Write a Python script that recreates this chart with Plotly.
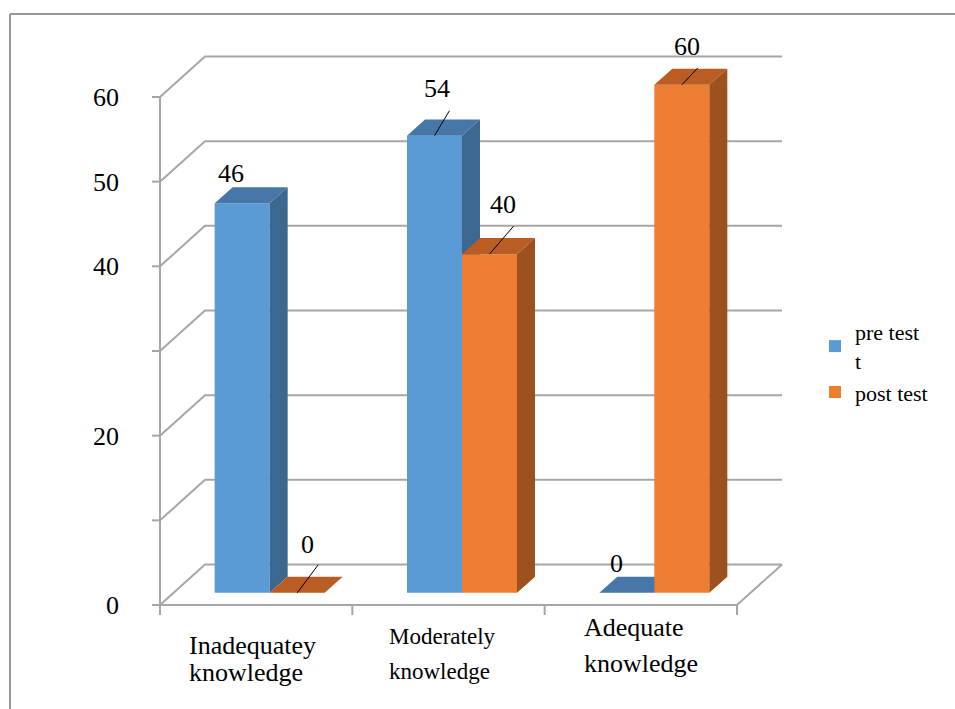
import plotly.graph_objects as go

# ---------------- data ----------------
categories = ["Inadequatey<br>knowledge", "Moderately<br>knowledge", "Adequate<br>knowledge"]
series_names = ["pre test<br>t", "post test"]
pre_test = [46, 54, 0]
post_test = [0, 40, 60]
y_tick_vals = [0, 20, 40, 50, 60]
y_tick_text = ["0", "20", "40", "50", "60"]
y_grid_vals = [0, 10, 20, 30, 40, 50, 60]

# ---------------- styles ----------------
FONT = "Liberation Serif"
front_colors = ["#5B9BD5", "#ED7D31"]
top_colors = ["#4677A8", "#BA5D24"]
side_colors = ["#3C6890", "#9C511E"]
GRID = "#A6A6A6"

W, H = 955, 709
L, R, T, B = 140, 800, 40, 620
PXX = 192.33          # px per category unit
PXY = 8.467           # px per value unit
FRONT_X0_PX, FRONT_Y0_PX = 160, 605
xr = [-0.5 - (FRONT_X0_PX - L) / PXX, -0.5 - (FRONT_X0_PX - L) / PXX + (R - L) / PXX]
yr = [-(B - FRONT_Y0_PX) / PXY, (FRONT_Y0_PX - T) / PXY]

DX = 45 / PXX         # full depth offset (x, data units)
DY = 40.5 / PXY       # full depth offset (y, data units)
D0 = 0.3              # front face depth fraction
DD = 0.4              # bar depth fraction
BW = 0.286            # bar width (category units)

# label offsets in px (xshift, yshift) relative to bar top-front centre
label_shift = [[(-11, 30), (10, 48)], [(3, 47), (13, 50)], [(-10, 29), (5, 38)]]
leader = [[None, (21, 28)], [(15, 25), (24, 28)], [None, (16, 17)]]
cat_left_shift = [-69, -62, -59]
cat_line_py = [[645, 672], [636, 671], [627, 663]]
cat_font = [26, 23, 26]

fig = go.Figure()
series_vals = [pre_test, post_test]
axes = [("x", "y"), ("x2", "y2")]
bar_offsets = [-BW, 0.0]

for s, vals in enumerate(series_vals):
    xa, ya = axes[s]
    off = bar_offsets[s] + D0 * DX
    fig.add_trace(go.Bar(
        x=list(range(len(categories))), y=vals, base=D0 * DY,
        offset=off, width=BW, name=series_names[s],
        marker=dict(color=front_colors[s], line=dict(width=0)),
        xaxis=xa, yaxis=ya, hoverinfo="skip",
    ))
    for i, v in enumerate(vals):
        fx = i + off
        fy = D0 * DY
        ddx, ddy = DD * DX, DD * DY
        # top face
        fig.add_trace(go.Scatter(
            x=[fx, fx + BW, fx + BW + ddx, fx + ddx, fx],
            y=[fy + v, fy + v, fy + v + ddy, fy + v + ddy, fy + v],
            fill="toself", fillcolor=top_colors[s], mode="lines",
            line=dict(width=0, color=top_colors[s]), showlegend=False,
            hoverinfo="skip", xaxis=xa, yaxis=ya))
        if v > 0:
            fig.add_trace(go.Scatter(
                x=[fx + BW, fx + BW, fx + BW + ddx, fx + BW + ddx, fx + BW],
                y=[fy, fy + v, fy + v + ddy, fy + ddy, fy],
                fill="toself", fillcolor=side_colors[s], mode="lines",
                line=dict(width=0, color=side_colors[s]), showlegend=False,
                hoverinfo="skip", xaxis=xa, yaxis=ya))

shapes = []
n = len(categories)
xl, xrt = -0.5, n - 0.5
for v in y_grid_vals:
    shapes.append(dict(type="path", xref="x", yref="y", layer="below",
                       path=f"M{xl},{v} L{xl + DX},{v + DY} L{xrt + DX},{v + DY}",
                       line=dict(color=GRID, width=2)))
# floor front and right edges
shapes.append(dict(type="path", xref="x", yref="y", layer="below",
                   path=f"M{xrt + DX},{DY} L{xrt},0 L{xl},0",
                   line=dict(color=GRID, width=2)))
# front vertical axis
shapes.append(dict(type="line", xref="x", yref="y", layer="below",
                   x0=xl, x1=xl, y0=0, y1=max(y_grid_vals),
                   line=dict(color=GRID, width=2)))
for v in y_grid_vals:
    shapes.append(dict(type="line", xref="x", yref="y", xsizemode="pixel", xanchor=xl,
                       x0=-8, x1=0, y0=v, y1=v, line=dict(color=GRID, width=2)))
for k in range(n + 1):
    shapes.append(dict(type="line", xref="x", yref="y", ysizemode="pixel", yanchor=0,
                       x0=xl + k, x1=xl + k, y0=0, y1=-10, line=dict(color=GRID, width=2)))

annotations = []
for s, vals in enumerate(series_vals):
    for i, v in enumerate(vals):
        cx = i + bar_offsets[s] + D0 * DX + BW / 2
        cy = v + D0 * DY
        sx, sy = label_shift[i][s]
        annotations.append(dict(x=cx, y=cy, xref="x", yref="y", text=str(v),
                                showarrow=False, xshift=sx, yshift=sy,
                                font=dict(family=FONT, size=26, color="black")))
        if leader[i][s] is not None:
            lx, ly = leader[i][s]
            shapes.append(dict(type="line", xref="x", yref="y", xsizemode="pixel",
                               ysizemode="pixel", xanchor=cx, yanchor=cy,
                               x0=0, y0=0, x1=lx, y1=ly, layer="above",
                               line=dict(color="black", width=1)))

for i, c in enumerate(categories):
    for j, line in enumerate(c.split("<br>")):
        annotations.append(dict(x=i, y=0, xref="x", yref="y", text=line, showarrow=False,
                                xanchor="left", yanchor="middle",
                                xshift=cat_left_shift[i], yshift=FRONT_Y0_PX - cat_line_py[i][j],
                                font=dict(family=FONT, size=cat_font[i], color="black")))

# outer frame
def px_x(p):
    return (p - L) / (R - L)

def px_y(p):
    return (B - p) / (B - T)

shapes.append(dict(type="line", xref="paper", yref="paper", x0=px_x(10), x1=px_x(960),
                   y0=px_y(14), y1=px_y(14), line=dict(color="#999999", width=2)))
shapes.append(dict(type="line", xref="paper", yref="paper", x0=px_x(10), x1=px_x(10),
                   y0=px_y(14), y1=px_y(715), line=dict(color="#999999", width=2)))

fig.update_layout(
    width=W, height=H,
    margin=dict(l=L, r=W - R, t=T, b=H - B),
    paper_bgcolor="white", plot_bgcolor="white",
    barmode="overlay",
    shapes=shapes, annotations=annotations,
    showlegend=True,
    legend=dict(x=px_x(815), y=px_y(362), xanchor="left", yanchor="middle",
                font=dict(family=FONT, size=22, color="black"),
                bgcolor="rgba(0,0,0,0)", tracegroupgap=0),
    xaxis=dict(range=xr, showgrid=False, zeroline=False, showline=False,
               showticklabels=False, ticks=""),
    yaxis=dict(range=yr, showgrid=False, zeroline=False, showline=False, ticks="",
               tickvals=y_tick_vals, ticktext=y_tick_text, ticklabelstandoff=20,
               tickfont=dict(family=FONT, size=26, color="black")),
    xaxis2=dict(range=xr, overlaying="x", anchor="y2", visible=False),
    yaxis2=dict(range=yr, overlaying="y", anchor="x2", visible=False),
)

fig.write_html("out.html")
